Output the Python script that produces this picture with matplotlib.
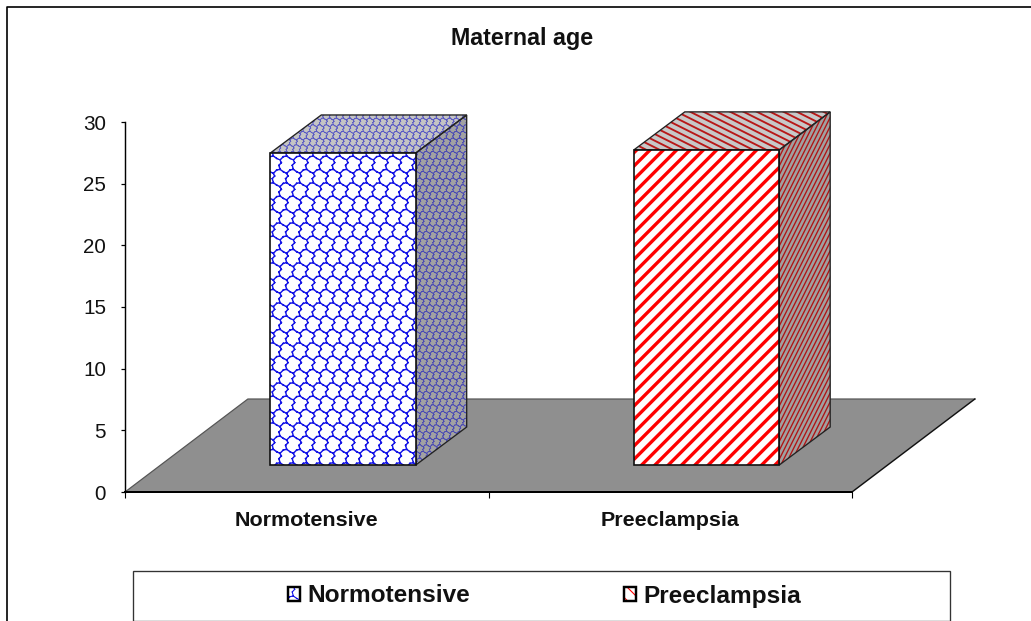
import numpy as np
import matplotlib
matplotlib.use("Agg")
import matplotlib.pyplot as plt
import matplotlib.hatch as mhatch
from matplotlib.path import Path
from matplotlib.patches import Patch, Polygon, Rectangle
from matplotlib.lines import Line2D
from matplotlib.legend_handler import HandlerTuple

plt.rcParams['font.family'] = ['Liberation Sans', 'DejaVu Sans']

categories = ['Normotensive', 'Preeclampsia']
values = [25.3, 25.55]
y_ticks = [0, 5, 10, 15, 20, 25, 30]

W, H = 1031, 621
DPI = 80

# pseudo 3d geometry, in data units
x_max = 2
y_max = 30
floor_dx, floor_dy = 0.338, 7.54
bar_offset, bar_lift = 0.1, 2.19
bar_width = 0.40
depth_dx, depth_dy = 0.14, 3.08


# excel style "trellis" pattern, used as hatch 'S'
class TrellisHatch(mhatch.HatchPatternBase):
    chains = [[(0.0, 0.0), (0.25, 0.25), (0.5, 0.3), (0.42, 0.6), (0.6, 0.8), (0.5, 1.0)],
              [(0.5, 0.3), (0.75, 0.12), (1.0, 0.0)]]

    def __init__(self, hatch, density):
        self.rows = hatch.count('S') * density
        n_seg = sum(len(c) - 1 for c in self.chains)
        self.num_vertices = self.rows * (self.rows + 1) * n_seg * 2

    def set_vertices_and_codes(self, vertices, codes):
        i = 0
        for r in range(self.rows):
            for c in range(-1, self.rows):
                ox = (c + 0.5 * (r % 2)) / self.rows
                oy = r / self.rows
                for chain in self.chains:
                    for a, b in zip(chain[:-1], chain[1:]):
                        vertices[i] = (ox + a[0] / self.rows, oy + a[1] / self.rows)
                        vertices[i + 1] = (ox + b[0] / self.rows, oy + b[1] / self.rows)
                        codes[i] = Path.MOVETO
                        codes[i + 1] = Path.LINETO
                        i += 2


# sloped lines for the receding faces: 'L' shallow falling, 'K' steep rising
class SlopedHatch(mhatch.HatchPatternBase):
    def __init__(self, hatch, density):
        self.n_shallow = hatch.count('L') * density
        self.n_steep = hatch.count('K') * density
        self.num_vertices = (self.n_shallow * 2 + self.n_steep * 2) * 2

    def set_vertices_and_codes(self, vertices, codes):
        i = 0
        for k in range(self.n_shallow * 2):
            y = k / self.n_shallow - 0.5
            vertices[i] = (0, y + 0.5)
            vertices[i + 1] = (1, y)
            codes[i] = Path.MOVETO
            codes[i + 1] = Path.LINETO
            i += 2
        for k in range(self.n_steep * 2):
            x = k / self.n_steep - 0.5
            vertices[i] = (x, 0)
            vertices[i + 1] = (x + 0.5, 1)
            codes[i] = Path.MOVETO
            codes[i + 1] = Path.LINETO
            i += 2


mhatch._hatch_types.append(TrellisHatch)
mhatch._hatch_types.append(SlopedHatch)

styles = [
    dict(color='#1414e6', front='S', top='SS', side='SS', legend='S', lw=1.3, top_lw=0.8, side_lw=0.8,
         top_hatch='#5a5ac4', side_hatch='#4a4ab4', top_bg='#c4c4c4', side_bg='#a2a2a2'),
    dict(color='#ff0000', front='//', top='LL', side='KKK', legend='\\\\', lw=3.0, top_lw=1.7, side_lw=1.2,
         top_hatch='#b81818', side_hatch='#b01414', top_bg='#c8c8c8', side_bg='#a0a0a0'),
]

fig = plt.figure(figsize=(W / DPI, H / DPI), dpi=DPI, facecolor='white')
ax = fig.add_axes([125 / W, 1 - 492 / H, 727 / W, 370 / H])
ax.set_xlim(0, x_max)
ax.set_ylim(0, y_max)
ax.patch.set_visible(False)
for s in ['top', 'right']:
    ax.spines[s].set_visible(False)
ax.spines['left'].set_linewidth(1.3)
ax.spines['bottom'].set_linewidth(1.8)

# floor
ax.add_patch(Polygon([(0, 0), (x_max, 0), (x_max + floor_dx, floor_dy), (floor_dx, floor_dy)],
                     closed=True, facecolor='#8f8f8f', edgecolor='none', clip_on=False, zorder=1))
ax.plot([0, floor_dx, floor_dx + x_max], [0, floor_dy, floor_dy], color='#555555', lw=1.1, clip_on=False, zorder=1)
ax.plot([x_max, x_max + floor_dx], [0, floor_dy], color='#111111', lw=1.3, clip_on=False, zorder=1)

# bars
for i, (v, st) in enumerate(zip(values, styles)):
    left = i + 0.5 + bar_offset - bar_width / 2
    right = left + bar_width
    y0 = bar_lift
    y1 = bar_lift + v
    side = [(right, y0), (right + depth_dx, y0 + depth_dy), (right + depth_dx, y1 + depth_dy), (right, y1)]
    top = [(left, y1), (right, y1), (right + depth_dx, y1 + depth_dy), (left + depth_dx, y1 + depth_dy)]

    p = Polygon(side, closed=True, facecolor=st['side_bg'], edgecolor=st['side_hatch'], hatch=st['side'],
                lw=0, clip_on=False, zorder=2)
    p.set_hatch_linewidth(st['side_lw'])
    ax.add_patch(p)
    p = Polygon(top, closed=True, facecolor=st['top_bg'], edgecolor=st['top_hatch'], hatch=st['top'],
                lw=0, clip_on=False, zorder=2)
    p.set_hatch_linewidth(st['top_lw'])
    ax.add_patch(p)
    ax.add_patch(Polygon(side, closed=True, fill=False, edgecolor='#222222', lw=1.2, clip_on=False, zorder=3))
    ax.add_patch(Polygon(top, closed=True, fill=False, edgecolor='#222222', lw=1.2, clip_on=False, zorder=3))

    front = ax.bar(i + 0.5 + bar_offset, v, bar_width, bottom=bar_lift, facecolor='white',
                   edgecolor=st['color'], hatch=st['front'], lw=0, zorder=4, clip_on=False)[0]
    front.set_hatch_linewidth(st['lw'])
    ax.bar(i + 0.5 + bar_offset, v, bar_width, bottom=bar_lift, fill=False,
           edgecolor='#111111', lw=1.5, zorder=5, clip_on=False)

# axes
ax.set_yticks(y_ticks)
ax.set_xticks([0, 1, 2])
ax.set_xticklabels([])
ax.tick_params(axis='y', direction='out', length=3.5, width=1.1, labelsize=18.6, pad=13.5, labelcolor='#111111')
ax.tick_params(axis='x', direction='out', length=5.5, width=1.0)
for i, c in enumerate(categories):
    ax.annotate(c, (i + 0.5, 0), xytext=(0, -28), textcoords='offset pixels', ha='center', va='center',
                fontsize=19.3, fontweight='bold', color='#111111')

fig.text(522 / W, 1 - 38.5 / H, 'Maternal age', ha='center', va='center', fontsize=20.9,
         fontweight='bold', color='#111111')

# outer border, only top and left fall inside the picture
fig.add_artist(Line2D([7 / W, 7 / W, 1], [0, 1 - 7 / H, 1 - 7 / H], color='black', lw=1.5))

# legend
fig.add_artist(Rectangle((132.5 / W, 1 - 620.5 / H), 817.5 / W, 49.5 / H, facecolor='white',
                         edgecolor='#333333', lw=1.2))
handles = []
for st in styles:
    swatch = Patch(facecolor='white', edgecolor=st['color'], hatch=st['legend'], lw=0)
    swatch.set_hatch_linewidth(st['lw'])
    handles.append((swatch, Patch(fill=False, edgecolor='black', lw=2.2)))
leg = fig.legend(handles, categories, loc='center left', bbox_to_anchor=(288 / W, 1 - 596 / H),
                 frameon=False, fontsize=21.9, ncol=2, handlelength=0.5, handleheight=0.55,
                 handletextpad=0.3, columnspacing=6.3, borderpad=0, borderaxespad=0,
                 handler_map={tuple: HandlerTuple(ndivide=1, pad=0)})
for t in leg.get_texts():
    t.set_fontweight('bold')
    t.set_color('#111111')

fig.savefig('out.png', dpi=DPI)
